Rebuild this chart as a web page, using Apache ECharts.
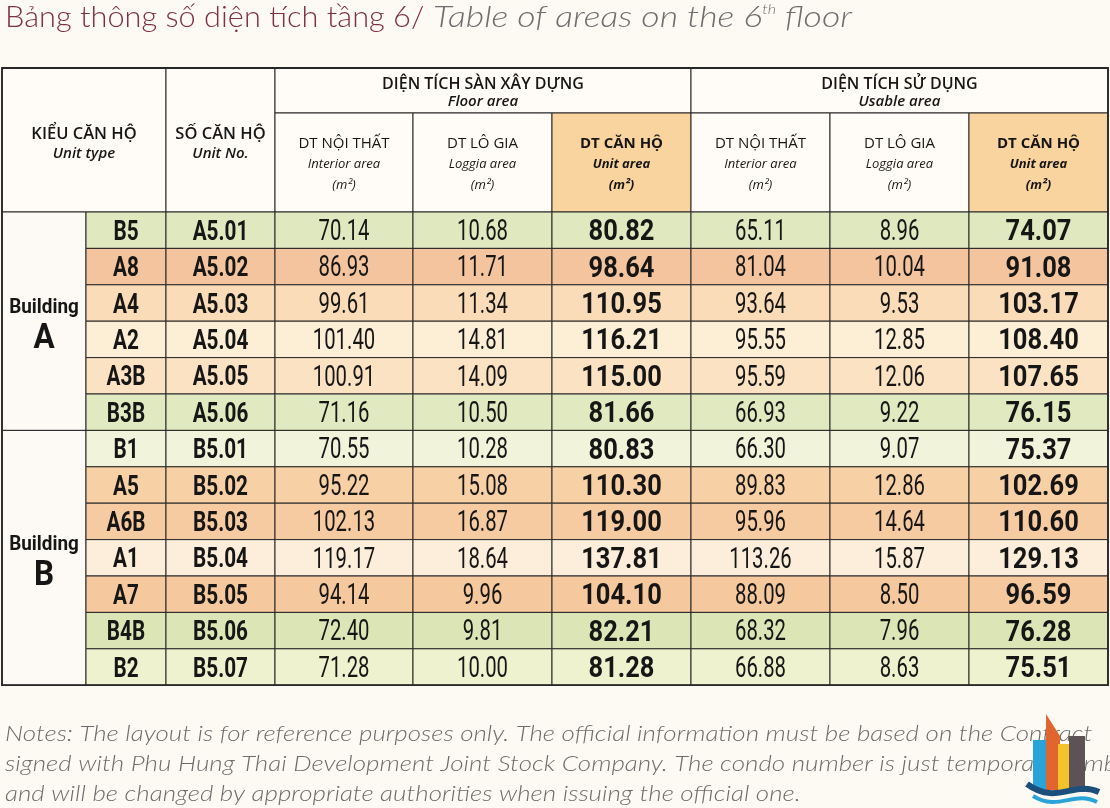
<!DOCTYPE html>
<html>
<head>
<meta charset="UTF-8"/>
<script type="text/javascript" src="https://cdn.jsdelivr.net/npm/echarts@6/dist/echarts.min.js"></script>
<title>Bảng thông số diện tích tầng 6</title>
<style>
    html, body { margin: 0; background: #fdfaf4; }
    #main { width: 1110px; height: 808px; }
</style>
</head>
<body>
<div id="main"></div>
<script type="text/javascript">
    // du lieu bang
    var buildings = ['A', 'B'];
    var buildingRows = [6, 7];
    var unitTypes = ['B5', 'A8', 'A4', 'A2', 'A3B', 'B3B', 'B1', 'A5', 'A6B', 'A1', 'A7', 'B4B', 'B2'];
    var unitNos = ['A5.01', 'A5.02', 'A5.03', 'A5.04', 'A5.05', 'A5.06',
        'B5.01', 'B5.02', 'B5.03', 'B5.04', 'B5.05', 'B5.06', 'B5.07'];
    var floorInterior = [70.14, 86.93, 99.61, 101.40, 100.91, 71.16, 70.55, 95.22, 102.13, 119.17, 94.14, 72.40, 71.28];
    var floorLoggia = [10.68, 11.71, 11.34, 14.81, 14.09, 10.50, 10.28, 15.08, 16.87, 18.64, 9.96, 9.81, 10.00];
    var floorUnit = [80.82, 98.64, 110.95, 116.21, 115.00, 81.66, 80.83, 110.30, 119.00, 137.81, 104.10, 82.21, 81.28];
    var usableInterior = [65.11, 81.04, 93.64, 95.55, 95.59, 66.93, 66.30, 89.83, 95.96, 113.26, 88.09, 68.32, 66.88];
    var usableLoggia = [8.96, 10.04, 9.53, 12.85, 12.06, 9.22, 9.07, 12.86, 14.64, 15.87, 8.50, 7.96, 8.63];
    var usableUnit = [74.07, 91.08, 103.17, 108.40, 107.65, 76.15, 75.37, 102.69, 110.60, 129.13, 96.59, 76.28, 75.51];

    var leftHeaders = [['KIỂU CĂN HỘ', 'Unit type'], ['SỐ CĂN HỘ', 'Unit No.']];
    var groupHeaders = [['DIỆN TÍCH SÀN XÂY DỰNG', 'Floor area'], ['DIỆN TÍCH SỬ DỤNG', 'Usable area']];
    var subHeaders = [['DT NỘI THẤT', 'Interior area'], ['DT LÔ GIA', 'Loggia area'], ['DT CĂN HỘ', 'Unit area']];
    var unitLabel = '(m²)';

    // mau nen tung dong
    var rowFill = ['#dfe8bf', '#f3c49d', '#fbdcb8', '#fdeed6', '#fbe2c3', '#e1e9c1', '#f1f3da',
        '#f8d0a6', '#f7cba1', '#fdeedb', '#f6c89e', '#dbe5b6', '#eef2cf'];

    // bo cuc (don vi = pixel cua luoi)
    var COLS = [0, 84, 164, 273, 411, 550, 689, 828, 967, 1106];
    var H1 = 45, H2 = 144, RH = 36.4;
    var TABLE_H = H2 + RH * unitTypes.length;

    // font: {f: css font, sx: nen ngang}
    var F_NUM = {f: '400 29px Roboto', sx: 0.7};
    var F_NUM_B = {f: '700 30px Roboto', sx: 0.85};
    var F_LAB = {f: '700 28px Roboto', sx: 0.74};
    var F_BLD = {f: '700 21px Roboto', sx: 0.9};
    var F_BLD_L = {f: '700 35px Roboto', sx: 0.9};
    var F_H = {f: '600 16.5px "Open Sans"', sx: 1};
    var F_HI = {f: 'italic 600 15px "Open Sans"', sx: 1};
    var F_G = {f: '600 16px "Open Sans"', sx: 1};
    var F_GI = {f: 'italic 600 15px "Open Sans"', sx: 1};
    var F_S = {f: '400 15px "Open Sans"', sx: 1};
    var F_SI = {f: 'italic 400 13px "Open Sans"', sx: 1};
    var F_SB = {f: '700 15px "Open Sans"', sx: 1};
    var F_SBI = {f: 'italic 700 13px "Open Sans"', sx: 1};

    var cells = [], meta = [];
    function addCell(c0, c1, y0, y1, fill, lines, lw) {
        cells.push([COLS[c0], y0, COLS[c1], y1]);
        meta.push({fill: fill, lines: lines || [], lw: lw || 1});
    }

    var HEAD_FILL = '#fffcf7', UNIT_FILL = '#fad49e', BLD_FILL = '#fdfaf5';

    // tieu de cot
    addCell(0, 2, 0, H2, HEAD_FILL, [
        {t: leftHeaders[0][0], f: F_H, dy: 66}, {t: leftHeaders[0][1], f: F_HI, dy: 86}]);
    addCell(2, 3, 0, H2, HEAD_FILL, [
        {t: leftHeaders[1][0], f: F_H, dy: 66}, {t: leftHeaders[1][1], f: F_HI, dy: 86}]);
    groupHeaders.forEach(function (g, k) {
        addCell(3 + k * 3, 6 + k * 3, 0, H1, HEAD_FILL, [
            {t: g[0], f: F_G, dy: 16}, {t: g[1], f: F_GI, dy: 34}]);
        subHeaders.forEach(function (s, j) {
            var bold = j === 2;
            addCell(3 + k * 3 + j, 4 + k * 3 + j, H1, H2, bold ? UNIT_FILL : HEAD_FILL, [
                {t: s[0], f: bold ? F_SB : F_S, dy: 31},
                {t: s[1], f: bold ? F_SBI : F_SI, dy: 51},
                {t: unitLabel, f: bold ? F_SBI : F_SI, dy: 72}]);
        });
    });

    // toa nha
    var start = 0;
    buildings.forEach(function (b, k) {
        var y0 = H2 + start * RH, y1 = y0 + buildingRows[k] * RH;
        var mid = (y1 - y0) / 2;
        addCell(0, 1, y0, y1, BLD_FILL, [
            {t: 'Building', f: F_BLD, dy: mid - 13},
            {t: b, f: F_BLD_L, dy: mid + 18}]);
        start += buildingRows[k];
    });

    // dong du lieu
    var cols = [floorInterior, floorLoggia, floorUnit, usableInterior, usableLoggia, usableUnit];
    unitTypes.forEach(function (u, i) {
        var y0 = H2 + i * RH, y1 = y0 + RH, dy = RH / 2 + 2.5;
        addCell(1, 2, y0, y1, rowFill[i], [{t: u, f: F_LAB, dy: dy}]);
        addCell(2, 3, y0, y1, rowFill[i], [{t: unitNos[i], f: F_LAB, dy: dy}]);
        cols.forEach(function (arr, j) {
            var bold = j === 2 || j === 5;
            addCell(3 + j, 4 + j, y0, y1, rowFill[i],
                [{t: arr[i].toFixed(2), f: bold ? F_NUM_B : F_NUM, dy: dy}]);
        });
    });

    // vien ngoai
    addCell(0, 9, 0, TABLE_H, 'none', [], 1.8);

    function renderCell(params, api) {
        var m = meta[params.dataIndex];
        var p0 = api.coord([api.value(0), api.value(1)]);
        var p1 = api.coord([api.value(2), api.value(3)]);
        var cx = (p0[0] + p1[0]) / 2;
        var children = [{
            type: 'rect',
            shape: {x: p0[0], y: p0[1], width: p1[0] - p0[0], height: p1[1] - p0[1]},
            style: {fill: m.fill, stroke: '#262626', lineWidth: m.lw}
        }];
        m.lines.forEach(function (l) {
            children.push({
                type: 'text', x: cx, y: p0[1] + l.dy, scaleX: l.f.sx,
                style: {text: l.t, font: l.f.f, fill: '#161616', align: 'center', verticalAlign: 'middle'}
            });
        });
        return {type: 'group', children: children};
    }

    var option = {
        backgroundColor: '#fdfaf4',
        animation: false,
        grid: {left: 2, top: 68, width: 1106, height: TABLE_H},
        xAxis: {type: 'value', min: 0, max: 1106, show: false},
        yAxis: {type: 'value', min: 0, max: TABLE_H, inverse: true, show: false},
        series: [{
            type: 'custom',
            renderItem: renderCell,
            encode: {x: [0, 2], y: [1, 3]},
            clip: false,
            data: cells
        }],
        graphic: [
            {
                type: 'text', left: 5, top: 3, scaleX: 1.06,
                style: {text: 'Bảng thông số diện tích tầng 6/', font: '300 29px Lato', fill: '#7e2f48'}
            },
            {
                type: 'text', left: 433, top: 3, scaleX: 1.23,
                style: {
                    text: '{b|Table of areas on the 6}{s|th}{b| floor}',
                    rich: {
                        b: {fontFamily: 'Lato', fontWeight: 300, fontStyle: 'italic', fontSize: 29, fill: '#6e6e6e', color: '#6e6e6e'},
                        s: {fontFamily: 'Lato', fontWeight: 300, fontStyle: 'italic', fontSize: 13, fill: '#6e6e6e', color: '#6e6e6e', verticalAlign: 'top'}
                    }
                }
            },
            {
                type: 'text', left: 5, top: 719, scaleX: 1.18,
                style: {
                    text: 'Notes: The layout is for reference purposes only. The official information must be based on the Contract\n' +
                        'signed with Phu Hung Thai Development Joint Stock Company. The condo number is just temporary symbol\n' +
                        'and will be changed by appropriate authorities when issuing the official one.',
                    font: 'italic 300 22px Lato', fill: '#6c6c6c', lineHeight: 30
                }
            },
            {
                type: 'group', left: 1024, top: 714,
                children: [
                    {type: 'rect', shape: {x: 4, y: 26, width: 15, height: 50}, style: {fill: '#2aa3d8'}},
                    {type: 'polygon', shape: {points: [[17, 0], [31, 22], [31, 76], [17, 76]]}, style: {fill: '#e1652e'}},
                    {type: 'rect', shape: {x: 29, y: 30, width: 11, height: 46}, style: {fill: '#f2c32a'}},
                    {type: 'rect', shape: {x: 40, y: 22, width: 16, height: 56}, style: {fill: '#5d5356'}},
                    {type: 'bezierCurve', shape: {x1: -2, y1: 70, cpx1: 28, cpy1: 92, cpx2: 45, cpy2: 66, x2: 70, y2: 78}, style: {fill: 'none', stroke: '#1d4f7c', lineWidth: 6}},
                    {type: 'bezierCurve', shape: {x1: 4, y1: 82, cpx1: 30, cpy1: 98, cpx2: 45, cpy2: 76, x2: 68, y2: 88}, style: {fill: 'none', stroke: '#2aa3d8', lineWidth: 4}}
                ]
            }
        ]
    };

    var myChart = echarts.init(document.getElementById('main'));
    myChart.setOption(option);
</script>
</body>
</html>
